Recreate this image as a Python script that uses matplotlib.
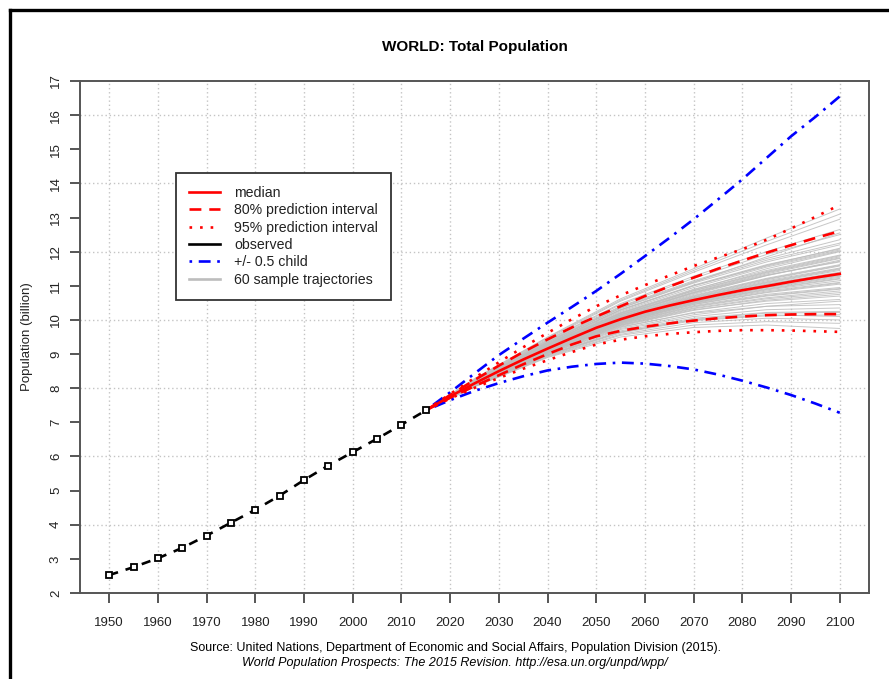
import matplotlib
matplotlib.use("Agg")
import matplotlib.pyplot as plt
from matplotlib.lines import Line2D
import numpy as np

plt.rcParams['font.family'] = ['Liberation Sans', 'DejaVu Sans']

# ---------------- data ----------------
obs_years = [1950, 1955, 1960, 1965, 1970, 1975, 1980, 1985, 1990, 1995, 2000, 2005, 2010, 2015]
obs_pop = [2.525, 2.758, 3.018, 3.322, 3.682, 4.061, 4.440, 4.853, 5.310, 5.735, 6.127, 6.520, 6.930, 7.349]

proj_years = [2015, 2020, 2025, 2030, 2035, 2040, 2045, 2050, 2055, 2060, 2065, 2070, 2075, 2080, 2085, 2090, 2095, 2100]
median = [7.35, 7.76, 8.14, 8.50, 8.84, 9.16, 9.47, 9.77, 10.02, 10.24, 10.42, 10.58, 10.73, 10.87, 10.99, 11.12, 11.24, 11.35]
pi80_up = [7.35, 7.80, 8.24, 8.66, 9.06, 9.43, 9.78, 10.10, 10.40, 10.70, 10.98, 11.24, 11.50, 11.74, 11.97, 12.19, 12.40, 12.60]
pi80_lo = [7.35, 7.72, 8.06, 8.38, 8.70, 9.00, 9.28, 9.52, 9.68, 9.80, 9.90, 9.98, 10.05, 10.10, 10.14, 10.16, 10.17, 10.17]
pi95_up = [7.35, 7.83, 8.30, 8.76, 9.20, 9.62, 10.02, 10.40, 10.72, 11.02, 11.30, 11.58, 11.83, 12.07, 12.35, 12.68, 13.02, 13.37]
pi95_lo = [7.35, 7.70, 8.01, 8.30, 8.57, 8.82, 9.06, 9.28, 9.42, 9.52, 9.59, 9.64, 9.68, 9.70, 9.70, 9.69, 9.67, 9.65]
child_up = [7.35, 7.88, 8.43, 8.97, 9.45, 9.92, 10.38, 10.85, 11.35, 11.87, 12.40, 12.95, 13.53, 14.12, 14.75, 15.38, 15.95, 16.55]
child_lo = [7.35, 7.65, 7.92, 8.15, 8.35, 8.52, 8.63, 8.71, 8.75, 8.72, 8.65, 8.55, 8.40, 8.22, 8.02, 7.80, 7.55, 7.28]

traj_years = [2015, 2025, 2040, 2055, 2070, 2085, 2100]
trajectories = [
    [7.35, 8.20, 9.35, 10.35, 11.10, 11.85, 12.55],
    [7.35, 8.10, 9.05, 9.80, 10.20, 10.40, 10.45],
    [7.35, 8.15, 9.20, 10.10, 10.75, 11.30, 11.75],
    [7.35, 8.08, 8.98, 9.65, 10.00, 10.15, 10.10],
    [7.35, 8.18, 9.28, 10.22, 10.90, 11.45, 11.90],
    [7.35, 8.12, 9.10, 9.92, 10.45, 10.80, 11.05],
    [7.35, 8.25, 9.45, 10.55, 11.40, 12.20, 12.95],
    [7.35, 8.05, 8.92, 9.55, 9.85, 9.95, 9.90],
    [7.35, 8.14, 9.15, 10.02, 10.60, 11.05, 11.40],
    [7.35, 8.16, 9.22, 10.15, 10.80, 11.35, 11.80],
    [7.35, 8.11, 9.08, 9.88, 10.38, 10.70, 10.90],
    [7.35, 8.22, 9.38, 10.40, 11.15, 11.80, 12.35],
    [7.35, 8.13, 9.12, 9.95, 10.50, 10.90, 11.20],
    [7.35, 8.09, 9.02, 9.75, 10.15, 10.40, 10.55],
    [7.35, 8.17, 9.25, 10.18, 10.85, 11.40, 11.85],
    [7.35, 8.28, 9.50, 10.62, 11.50, 12.40, 13.25],
    [7.35, 8.12, 9.11, 9.96, 10.55, 10.95, 11.25],
    [7.35, 8.07, 8.96, 9.62, 9.98, 10.12, 10.15],
    [7.35, 8.19, 9.30, 10.28, 11.00, 11.60, 12.10],
    [7.35, 8.14, 9.16, 10.03, 10.62, 11.08, 11.45],
    [7.35, 8.10, 9.06, 9.84, 10.30, 10.55, 10.70],
    [7.35, 8.15, 9.19, 10.08, 10.70, 11.20, 11.60],
    [7.35, 8.21, 9.34, 10.34, 11.08, 11.70, 12.20],
    [7.35, 8.06, 8.94, 9.58, 9.92, 10.05, 10.00],
    [7.35, 8.13, 9.13, 9.98, 10.52, 10.92, 11.22],
    [7.35, 8.16, 9.21, 10.12, 10.78, 11.30, 11.72],
    [7.35, 8.11, 9.09, 9.90, 10.42, 10.75, 10.95],
    [7.35, 8.18, 9.27, 10.20, 10.88, 11.50, 12.00],
    [7.35, 8.12, 9.10, 9.93, 10.48, 10.85, 11.10],
    [7.35, 8.24, 9.42, 10.48, 11.28, 12.00, 12.65],
    [7.35, 8.09, 9.03, 9.78, 10.22, 10.48, 10.60],
    [7.35, 8.15, 9.18, 10.06, 10.66, 11.15, 11.52],
    [7.35, 8.14, 9.17, 10.04, 10.64, 11.10, 11.48],
    [7.35, 8.08, 8.99, 9.68, 10.05, 10.22, 10.25],
    [7.35, 8.20, 9.32, 10.30, 11.02, 11.62, 12.08],
    [7.35, 8.13, 9.14, 10.00, 10.56, 11.00, 11.32],
    [7.35, 8.17, 9.24, 10.16, 10.82, 11.38, 11.82],
    [7.35, 8.10, 9.05, 9.82, 10.28, 10.58, 10.75],
    [7.35, 8.12, 9.12, 9.97, 10.53, 10.96, 11.28],
    [7.35, 8.23, 9.40, 10.45, 11.22, 11.92, 12.50],
    [7.35, 8.11, 9.07, 9.86, 10.35, 10.65, 10.85],
    [7.35, 8.16, 9.20, 10.10, 10.72, 11.22, 11.62],
    [7.35, 8.04, 8.90, 9.50, 9.78, 9.85, 9.75],
    [7.35, 8.15, 9.19, 10.07, 10.68, 11.18, 11.58],
    [7.35, 8.19, 9.29, 10.25, 10.95, 11.55, 12.02],
    [7.35, 8.12, 9.11, 9.94, 10.50, 10.88, 11.15],
    [7.35, 8.09, 9.01, 9.72, 10.10, 10.30, 10.35],
    [7.35, 8.14, 9.16, 10.02, 10.60, 11.04, 11.38],
    [7.35, 8.21, 9.36, 10.38, 11.12, 11.75, 12.25],
    [7.35, 8.13, 9.14, 9.99, 10.58, 11.02, 11.35],
    [7.35, 8.10, 9.06, 9.85, 10.33, 10.62, 10.80],
    [7.35, 8.17, 9.23, 10.14, 10.80, 11.32, 11.70],
    [7.35, 8.12, 9.10, 9.92, 10.46, 10.82, 11.08],
    [7.35, 8.26, 9.48, 10.58, 11.45, 12.30, 13.10],
    [7.35, 8.07, 8.97, 9.64, 10.02, 10.20, 10.22],
    [7.35, 8.15, 9.18, 10.05, 10.65, 11.12, 11.50],
    [7.35, 8.18, 9.26, 10.20, 10.86, 11.42, 11.88],
    [7.35, 8.11, 9.08, 9.89, 10.40, 10.72, 10.92],
    [7.35, 8.14, 9.15, 10.01, 10.58, 11.00, 11.30],
    [7.35, 8.20, 9.31, 10.30, 11.00, 11.58, 12.05],
]

x_ticks = list(range(1950, 2101, 10))
y_ticks = list(range(2, 18))
y_grid = list(range(2, 17, 2))

title = "WORLD: Total Population"
ylabel = "Population (billion)"
source1 = "Source: United Nations, Department of Economic and Social Affairs, Population Division (2015)."
source2 = "World Population Prospects: The 2015 Revision. http://esa.un.org/unpd/wpp/"

# ---------------- figure ----------------
W, H = 889, 679
fig = plt.figure(figsize=(W / 100, H / 100), dpi=100)
fig.patch.set_facecolor("white")

ax = fig.add_axes([80 / W, 1 - 593 / H, (869 - 80) / W, (593 - 81) / H])
ax.set_xlim(1944, 2106)
ax.set_ylim(2, 17)

# grid
for xv in x_ticks:
    ax.axvline(xv, color="#c4c4c4", lw=1.0, ls=(0, (1, 2)), zorder=0)
for yv in y_grid:
    ax.axhline(yv, color="#c4c4c4", lw=1.0, ls=(0, (1, 2)), zorder=0)

# trajectories
for tr in trajectories:
    ax.plot(traj_years, tr, color="#bdbdbd", lw=0.7, alpha=0.85, zorder=1)

lw = 1.9
ax.plot(proj_years, child_up, color="#0000ff", lw=lw, ls=(0, (1, 2.5, 4.5, 2.5)), zorder=3)
ax.plot(proj_years, child_lo, color="#0000ff", lw=lw, ls=(0, (1, 2.5, 4.5, 2.5)), zorder=3)
ax.plot(proj_years, pi95_up, color="#ff0000", lw=lw, ls=(0, (1, 3)), zorder=4)
ax.plot(proj_years, pi95_lo, color="#ff0000", lw=lw, ls=(0, (1, 3)), zorder=4)
ax.plot(proj_years, pi80_up, color="#ff0000", lw=lw, ls=(0, (4.5, 3)), zorder=4)
ax.plot(proj_years, pi80_lo, color="#ff0000", lw=lw, ls=(0, (4.5, 3)), zorder=4)
ax.plot(proj_years, median, color="#ff0000", lw=lw, ls="-", zorder=5)

ax.plot(obs_years, obs_pop, color="black", lw=1.9, ls=(0, (3.5, 3)), marker="s",
        markersize=4.5, markerfacecolor="white", markeredgecolor="black",
        markeredgewidth=1.3, zorder=6)

# axes style
for s in ax.spines.values():
    s.set_color("#555555")
    s.set_linewidth(1.4)
ax.set_xticks(x_ticks)
ax.set_yticks(y_ticks)
ax.set_xticklabels([str(v) for v in x_ticks], fontsize=9.5, color="#222222")
ax.set_yticklabels([str(v) for v in y_ticks], fontsize=9.5, color="#222222",
                   rotation=90, va="center")
ax.tick_params(axis="both", direction="out", length=7, width=1.4, color="#555555")
ax.tick_params(axis="x", pad=10)
ax.tick_params(axis="y", pad=6)

ax.set_ylabel(ylabel, fontsize=9.5, color="#222222", labelpad=12)

fig.text(0.5 * (80 + 869) / W, 1 - 47 / H, title, fontsize=11, fontweight="bold",
         ha="center", va="center")
fig.text(456 / W, 1 - 648 / H, source1, fontsize=9.0, ha="center", va="center")
fig.text(455 / W, 1 - 663 / H, source2, fontsize=9.0, ha="center", va="center", style="italic")

# legend
handles = [
    Line2D([], [], color="#ff0000", lw=lw, ls="-"),
    Line2D([], [], color="#ff0000", lw=lw, ls=(0, (4.5, 3))),
    Line2D([], [], color="#ff0000", lw=lw, ls=(0, (1, 3))),
    Line2D([], [], color="black", lw=lw, ls="-"),
    Line2D([], [], color="#0000ff", lw=lw, ls=(0, (1, 2.5, 4.5, 2.5))),
    Line2D([], [], color="#bdbdbd", lw=lw, ls="-"),
]
labels = ["median", "80% prediction interval", "95% prediction interval",
          "observed", "+/- 0.5 child", "60 sample trajectories"]
leg = ax.legend(handles, labels, loc="upper left",
                bbox_to_anchor=((176 - 80) / 789, (593 - 173) / 512),
                fontsize=10.2, frameon=True, fancybox=False, edgecolor="#333333",
                framealpha=1, borderpad=0.9, labelspacing=0.24, handlelength=2.2,
                handletextpad=1.0, borderaxespad=0)
leg.get_frame().set_linewidth(1.3)
for t in leg.get_texts():
    t.set_color("#222222")

# outer frame (top and left edges)
fig.add_artist(Line2D([10 / W, 1], [1 - 10 / H, 1 - 10 / H], transform=fig.transFigure,
                      color="black", lw=2.4))
fig.add_artist(Line2D([10 / W, 10 / W], [0, 1 - 10 / H], transform=fig.transFigure,
                      color="black", lw=2.4))

fig.savefig("out.png", dpi=100)
